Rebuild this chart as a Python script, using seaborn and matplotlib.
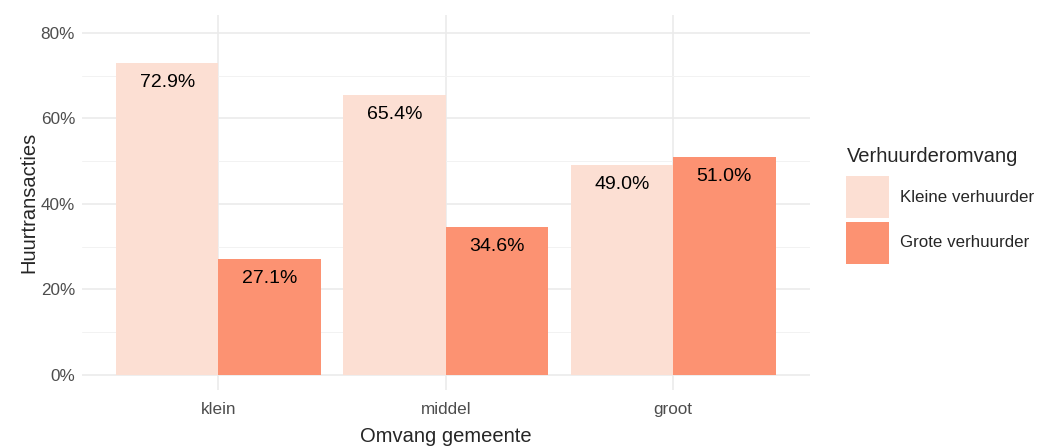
import seaborn as sns
import matplotlib.pyplot as plt
import pandas as pd
from matplotlib.ticker import PercentFormatter, MultipleLocator

sns.set_style("white")
plt.rcParams['font.family'] = ['Liberation Sans', 'DejaVu Sans']

gemeente = ["klein", "middel", "groot"]
verhuurder = ["Kleine verhuurder", "Grote verhuurder"]
kleine = [0.729, 0.654, 0.490]
grote = [0.271, 0.346, 0.510]
colors = ["#FCDFD3", "#FC9272"]

df = pd.DataFrame({
    "gemeente": gemeente * 2,
    "verhuurder": [verhuurder[0]] * 3 + [verhuurder[1]] * 3,
    "aandeel": kleine + grote,
})

fig = plt.figure(figsize=(10.38, 4.46), dpi=100)
ax = fig.add_axes([0.079, 0.1256, 0.701, 0.8408])

sns.barplot(data=df, x="gemeente", y="aandeel", hue="verhuurder",
            order=gemeente, hue_order=verhuurder, palette=colors,
            width=0.9, saturation=1, linewidth=0, ax=ax, legend=False)

for cont in ax.containers:
    ax.bar_label(cont, labels=[f"{b.get_height() * 100:.1f}%" for b in cont],
                 padding=-20, fontsize=14, color="black")

ax.set_xlim(-0.6, 2.6)
ax.set_ylim(-0.035, 0.842)
ax.yaxis.set_major_locator(MultipleLocator(0.2))
ax.yaxis.set_minor_locator(MultipleLocator(0.1))
ax.yaxis.set_major_formatter(PercentFormatter(1.0, decimals=0))
ax.grid(True, which="major", color="#EBEBEB", linewidth=1.2)
ax.grid(True, which="minor", axis="y", color="#F2F2F2", linewidth=0.7)
ax.set_axisbelow(True)
for s in ax.spines.values():
    s.set_visible(False)
ax.tick_params(axis="both", length=0, labelsize=12.3, labelcolor="#4D4D4D", pad=5)
ax.tick_params(axis="x", pad=9)
ax.set_xlabel("Omvang gemeente", fontsize=14.5, labelpad=6.5)
ax.set_ylabel("Huurtransacties", fontsize=14.5, labelpad=2)

# legend title drawn separately so the gap to the keys matches
fig.text(0.8155, 1 - 147 / 446, "Verhuurderomvang", fontsize=14.5, va="top", ha="left")
handles = [plt.Rectangle((0, 0), 1, 1, facecolor=c, edgecolor="none") for c in colors]
leg = fig.legend(handles, verhuurder, loc="upper left",
                 bbox_to_anchor=(0.815, 1 - 176 / 446), frameon=False, fontsize=12.2,
                 handlelength=2.55, handleheight=3.45,
                 handletextpad=0.65, labelspacing=0.2,
                 borderaxespad=0, borderpad=0)

plt.savefig("out.png", dpi=100)
plt.close()
